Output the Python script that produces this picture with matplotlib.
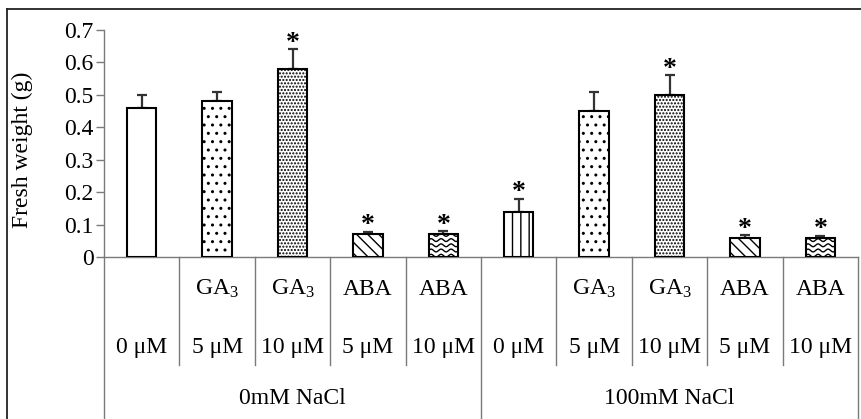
import numpy as np
import matplotlib
matplotlib.use("Agg")
import matplotlib.pyplot as plt
from matplotlib.lines import Line2D
from matplotlib.transforms import blended_transform_factory

# ---- data -------------------------------------------------------------
treatments = ["", "GA$_{\\mathrm{3}}$", "GA$_{\\mathrm{3}}$", "ABA", "ABA",
              "", "GA$_{\\mathrm{3}}$", "GA$_{\\mathrm{3}}$", "ABA", "ABA"]
doses = ["0 μM", "5 μM", "10 μM", "5 μM", "10 μM",
         "0 μM", "5 μM", "10 μM", "5 μM", "10 μM"]
salt_groups = ["0mM NaCl", "100mM NaCl"]
fresh_weight = [0.46, 0.48, 0.58, 0.07, 0.07, 0.14, 0.45, 0.50, 0.06, 0.06]
err_upper = [0.04, 0.03, 0.06, 0.008, 0.01, 0.04, 0.06, 0.06, 0.007, 0.006]
significant = [False, False, True, True, True, True, False, True, True, True]
yticks = [0, 0.1, 0.2, 0.3, 0.4, 0.5, 0.6, 0.7]

# fill style per treatment
hatches = ["", "..", ".....", "\\\\\\", "wave", "||", "..", ".....", "\\\\\\", "wave"]

# ---- style ------------------------------------------------------------
plt.rcParams["font.family"] = ["Liberation Serif", "DejaVu Serif"]
plt.rcParams["mathtext.fontset"] = "custom"
plt.rcParams["mathtext.rm"] = "Liberation Serif"
plt.rcParams["mathtext.it"] = "Liberation Serif:italic"
plt.rcParams["hatch.linewidth"] = 1.0
plt.rcParams["hatch.color"] = "black"

FS = 17
GRID = "#7a7a7a"

W, H = 861, 419
fig = plt.figure(figsize=(W / 100, H / 100), dpi=100)
ax = fig.add_axes([104 / W, (H - 257) / H, 754 / W, 227 / H])

x = np.arange(len(fresh_weight))
bw = 0.39
bars = ax.bar(x, fresh_weight, width=bw, color="white", edgecolor="black",
              linewidth=1.5, zorder=3)
for b, h in zip(bars, hatches):
    if h and h != "wave":
        b.set_hatch(h)

# wavy fill lines, clipped to their bar
for b, h in zip(bars, hatches):
    if h != "wave":
        continue
    x0, w = b.get_x(), b.get_width()
    top = b.get_height()
    xs = np.linspace(x0, x0 + w, 200)
    dx_px = 754 / 10.0       # pixels per x data unit
    dy = 0.7 / 227.0         # y data per pixel
    phase = (xs - x0) * dx_px / 10.0 * 2 * np.pi
    y = 0.004
    while y < top + 0.005:
        ln, = ax.plot(xs, y + 1.4 * dy * np.sin(phase), color="black",
                      lw=1.0, zorder=4)
        ln.set_clip_path(b)
        y += 5.2 * dy

ax.errorbar(x, fresh_weight, yerr=[np.zeros(len(x)), err_upper], fmt="none",
            ecolor="#333333", elinewidth=1.6, capsize=3.4, capthick=1.6,
            zorder=2)

for xi, v, e, s in zip(x, fresh_weight, err_upper, significant):
    if s:
        ax.text(xi, v + e - 0.002, "*", ha="center", va="baseline",
                fontsize=20, fontweight="bold", color="black", zorder=5)

ax.set_xlim(-0.5, len(x) - 0.5)
ax.set_ylim(0, 0.7)
ax.set_yticks(yticks)
ax.set_yticklabels([f"{t:g}" for t in yticks], fontsize=FS)
ax.tick_params(axis="y", direction="out", length=6, width=1.0, color=GRID,
               pad=1.5)
ax.set_xticks([])
for side in ("top", "right"):
    ax.spines[side].set_visible(False)
for side in ("left", "bottom"):
    ax.spines[side].set_color(GRID)
    ax.spines[side].set_linewidth(1.0)

ax.set_ylabel("Fresh weight (g)", fontsize=FS)
ax.yaxis.set_label_coords((33 - 104) / 754, (257 - 150) / 227)

# ---- category table under the axis -------------------------------------
tr = blended_transform_factory(ax.transData, ax.transAxes)
px = 1.0 / 227.0
row_short = -(365 - 257) * px
row_long = -(430 - 257) * px
for i in range(len(x) + 1):
    xb = i - 0.5
    long_line = i in (0, 5, 10)
    ax.add_line(Line2D([xb, xb], [0, row_long if long_line else row_short],
                       transform=tr, color=GRID, lw=1.0, clip_on=False))

for xi, t, d in zip(x, treatments, doses):
    if t:
        ax.text(xi, -(289 - 257) * px, t, transform=tr, ha="center",
                va="center", fontsize=FS)
    ax.text(xi, -(347 - 257) * px, d, transform=tr, ha="center",
            va="center", fontsize=FS)

for k, g in enumerate(salt_groups):
    ax.text(2 + 5 * k, -(398 - 257) * px, g, transform=tr, ha="center",
            va="center", fontsize=FS)

# ---- outer frame ------------------------------------------------------
fig.add_artist(Line2D([7 / W, 1.01], [1 - 9 / H, 1 - 9 / H],
                      transform=fig.transFigure, color="#222222", lw=1.3))
fig.add_artist(Line2D([7 / W, 7 / W], [1 - 9 / H, -0.01],
                      transform=fig.transFigure, color="#222222", lw=1.3))

fig.savefig("out.png", dpi=100)
